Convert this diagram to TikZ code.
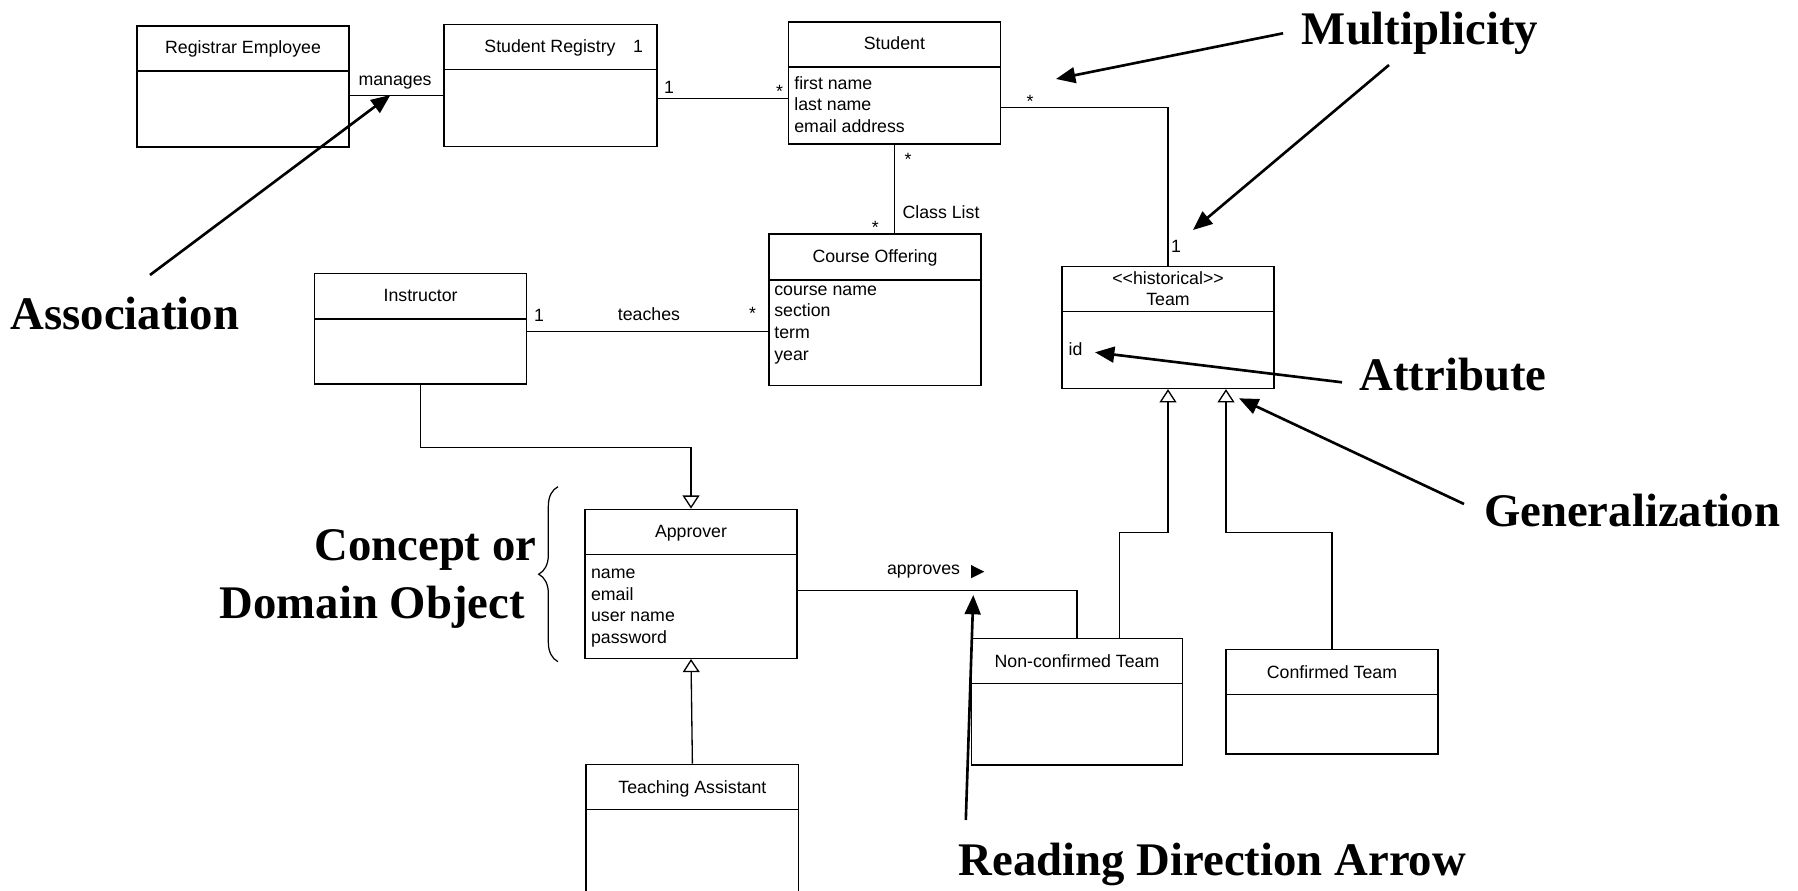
\documentclass[tikz,border=0pt]{standalone}
\usepackage{fontspec}
\setmainfont{Liberation Sans}
\newfontfamily\calloutfont{Liberation Serif}
\usetikzlibrary{arrows.meta,fit,decorations.pathreplacing}

% class box: name, x1, y1, x2, y2, y of the compartment line
\newcommand{\umlclass}[6]{%
  \node[cls, fit={(#2,#3) (#4,#5)}] (#1) {};
  \draw[box] (#2,#6) -- (#4,#6);
}

\begin{document}
\begin{tikzpicture}[x=0.02cm, y=-0.02cm,
  box/.style={draw=black, line width=0.75pt},
  cls/.style={box, inner sep=0pt},
  txt/.style={inner sep=0pt, font=\fontsize{10.1}{12.3}\selectfont},
  ttl/.style={txt, anchor=base},
  att/.style={txt, anchor=base west},
  link/.style={line width=0.75pt},
  gen/.style={link, -{Triangle[open, length=7.5pt, width=9.6pt]}},
  callout/.style={inner sep=0pt, anchor=base, font=\calloutfont\bfseries\fontsize{26.6}{32}\selectfont},
  pointer/.style={line width=1.5pt, -{Triangle[length=11pt, width=9pt]}},
]
\useasboundingbox (0,0) rectangle (1798,891);
\clip (0,0) rectangle (1798,891);

% ---------- classes ----------
\umlclass{reg}{137}{26}{349}{147}{71}
\node[ttl] (regT) at (243,54) {Registrar Employee};

\umlclass{sreg}{444}{24.3}{657}{146.7}{69.3}
\node[ttl] (sregT) at (550,53) {Student Registry};
\node[ttl] (sregN) at (638,53) {1};

\umlclass{stu}{788.4}{22}{1000.4}{144}{67}
\node[ttl] (stuT) at (894.4,50) {Student};
\node[att] (stuA1) at (794,89.3) {first name};
\node[att] (stuA2) at (794,111) {last name};
\node[att] (stuA3) at (794,132.7) {email address};

\umlclass{co}{769}{234}{981}{385.7}{280}
\node[ttl] (coT) at (875,263) {Course Offering};
\node[att] (coA1) at (774,295.3) {course name};
\node[att] (coA2) at (774,317) {section};
\node[att] (coA3) at (774,338.7) {term};
\node[att] (coA4) at (774,360.4) {year};

\umlclass{ins}{314.4}{273.3}{526.8}{384}{319}
\node[ttl] (insT) at (420.6,302) {Instructor};

\umlclass{team}{1062}{266.7}{1274}{388.5}{311.7}
\node[ttl] (teamS) at (1168,285) {<\kern0pt<historical>\kern0pt>};
\node[ttl] (teamT) at (1168,306) {Team};
\node[att] (teamA1) at (1068.3,356) {id};

\umlclass{app}{585}{509.3}{797}{658.3}{554.7}
\node[ttl] (appT) at (691,538) {Approver};
\node[att] (appA1) at (590.7,578.3) {name};
\node[att] (appA2) at (590.7,600) {email};
\node[att] (appA3) at (590.7,621.7) {user name};
\node[att] (appA4) at (590.7,643.4) {password};

\umlclass{ta}{586}{764.3}{798.8}{905}{809.3}
\node[ttl] (taT) at (692.4,793.3) {Teaching Assistant};

\umlclass{nct}{971.6}{638.7}{1182.3}{765}{683.7}
\node[ttl] (nctT) at (1077,667.3) {Non-confirmed Team};

\umlclass{ct}{1226}{649.7}{1438}{754}{694.3}
\node[ttl] (ctT) at (1332,678.3) {Confirmed Team};

% ---------- associations ----------
\coordinate (lvMan) at (0,95.3);
\draw[link] (reg.east |- lvMan) -- (sreg.west |- lvMan);
\node[ttl] (manL) at (395,86) {manages};

\coordinate (lvReg) at (0,98.3);
\draw[link] (sreg.east |- lvReg) -- (stu.west |- lvReg);
\node[ttl] (m1) at (669,94) {1};
\node[ttl] (m2) at (779.5,98) {*};

\coordinate (lvTeam) at (0,107.7);
\draw[link] (stu.east |- lvTeam) -| (team.north);
\node[ttl] (m3) at (1030,108) {*};
\node[ttl] (m4) at (1176,253) {1};

\draw[link] (stu.south) -- (stu.south |- co.north);
\node[ttl] (m5) at (908,166) {*};
\node[ttl] (m6) at (875.4,234) {*};
\node[ttl] (classL) at (941,219) {Class List};

\coordinate (lvTeach) at (0,331.7);
\draw[link] (ins.east |- lvTeach) -- (co.west |- lvTeach);
\node[ttl] (m7) at (539,322) {1};
\node[ttl] (teachL) at (649,321) {teaches};
\node[ttl] (m8) at (752.6,320) {*};

\coordinate (lvApp) at (0,590.7);
\draw[link] (app.east |- lvApp) -| (nct.north);
\node[ttl] (apprL) at (923.5,574) {approves};
\fill (971,565) -- (984.3,571.7) -- (971,578.3) -- cycle;

% ---------- generalizations ----------
\coordinate (lvIns) at (0,447.3);
\draw[gen] (ins.south) -- (ins.south |- lvIns) -| (app.north);
\draw[gen] (ta.north) -- (app.south);

\coordinate (lvSub) at (0,532.3);
\coordinate (ncUp) at (1119.6,0);
\coordinate (ctIn) at (1226,0);
\draw[gen] (nct.north -| ncUp) -- (ncUp |- lvSub) -| (team.south);
\draw[gen] (ct.north) -- (ct.north |- lvSub) -| (team.south -| ctIn);

% ---------- callouts ----------
\node[callout] (multL) at (1420,45) {Multiplicity};
\node[callout] (assocL) at (125,330) {Association};
\node[callout] (attrL) at (1453,390.7) {Attribute};
\node[callout] (genL) at (1632,526.7) {Generalization};
\node[callout] (readL) at (1212.5,875) {Reading Direction Arrow};
\node[callout, anchor=base east] (conceptL) at (536.7,561) {Concept or};
\node[callout, anchor=base east] (domainL) at (525,618.3) {Domain Object};

\coordinate (assocTail) at (150,275);
\coordinate (assocTip) at (390.4,95);
\coordinate (multTailA) at (1283,33.3);
\coordinate (multTipA) at (1056,79);
\coordinate (multTailB) at (1389,65);
\coordinate (multTipB) at (1193,230);
\coordinate (attrTail) at (1342,382.3);
\coordinate (attrTip) at (1095,352.3);
\coordinate (genTail) at (1464,504);
\coordinate (genTip) at (1239,398.3);
\coordinate (readTail) at (965.8,820);
\coordinate (readTip) at (973.3,595);

\draw[pointer] (assocTail) -- (assocTip);
\draw[pointer] (multTailA) -- (multTipA);
\draw[pointer] (multTailB) -- (multTipB);
\draw[pointer] (attrTail) -- (attrTip);
\draw[pointer] (genTail) -- (genTip);
\draw[pointer] (readTail) -- (readTip);

\coordinate (braceLow) at (558,661.7);
\coordinate (braceHigh) at (558,486.7);
\draw[line width=0.7pt, decorate, decoration={brace, amplitude=11pt}] (braceLow) -- (braceHigh);
\end{tikzpicture}
\end{document}
